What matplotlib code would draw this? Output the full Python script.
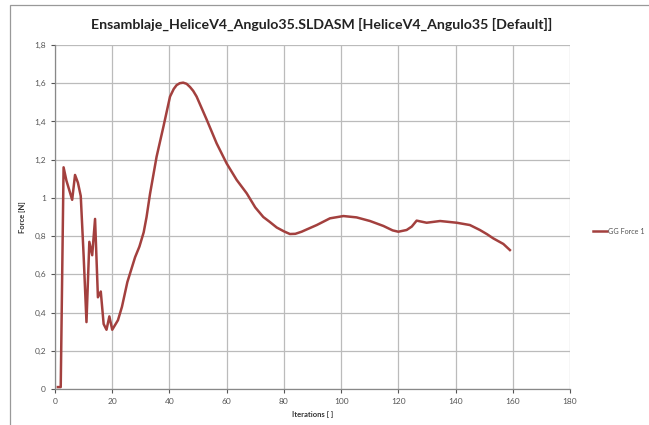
import matplotlib
matplotlib.use("Agg")
import matplotlib.pyplot as plt
from matplotlib.patches import Rectangle

iterations = [1, 2, 3, 4, 5, 6, 7, 8, 9, 10, 11, 12, 13, 14, 15, 16, 17, 18, 19, 20,
              22, 23.4, 25.3, 28, 29.5, 31, 32, 33.2, 35.5, 37.9, 40.2, 41.5, 42.5, 43.6, 44.8,
              46, 47.2, 48.3, 49.5, 53, 56.5, 60, 63.5, 67, 70, 72.8, 75, 77.5, 80, 82.1, 84,
              86.2, 88, 91.5, 96.1, 100.8, 105.4, 110.1, 114.8, 118, 120, 122.9, 124.7,
              126.4, 129.9, 134.6, 140.4, 145, 148.5, 151, 153.2, 156.7, 159]
force = [0.01, 0.01, 1.16, 1.09, 1.04, 0.99, 1.12, 1.08, 1.01, 0.70, 0.35, 0.77, 0.70, 0.89,
         0.48, 0.51, 0.34, 0.31, 0.38, 0.31,
         0.36, 0.43, 0.56, 0.69, 0.745, 0.82, 0.90, 1.02, 1.215, 1.373, 1.53, 1.57, 1.59, 1.60, 1.603,
         1.597, 1.58, 1.56, 1.53, 1.41, 1.285, 1.18, 1.094, 1.024, 0.95, 0.90, 0.875, 0.845, 0.825, 0.811, 0.812,
         0.823, 0.835, 0.858, 0.893, 0.905, 0.898, 0.879, 0.853, 0.83, 0.823, 0.832, 0.85,
         0.881, 0.87, 0.879, 0.87, 0.858, 0.832, 0.81, 0.788, 0.759, 0.727]

xticks = [0, 20, 40, 60, 80, 100, 120, 140, 160, 180]
yticks = [0, 0.2, 0.4, 0.6, 0.8, 1.0, 1.2, 1.4, 1.6, 1.8]
ytick_labels = ["0", "0,2", "0,4", "0,6", "0,8", "1", "1,2", "1,4", "1,6", "1,8"]
title = "Ensamblaje_HeliceV4_Angulo35.SLDASM [HeliceV4_Angulo35 [Default]]"
series_name = "GG Force 1"

plt.rcParams['font.family'] = ['Lato', 'DejaVu Sans']

fig = plt.figure(figsize=(6.49, 4.25), dpi=100)
fig.patch.set_facecolor('white')
ax = fig.add_axes([55/649, 1-389/425, (570-55)/649, (389-45)/425])

ax.plot(iterations, force, color='#A3403E', lw=1.8, label=series_name)

ax.set_xlim(0, 180)
ax.set_ylim(0, 1.8)
ax.set_xticks(xticks)
ax.set_xticklabels([str(v) for v in xticks])
ax.set_yticks(yticks)
ax.set_yticklabels(ytick_labels)
ax.grid(True, color='#BBBBBB', lw=0.9)
ax.set_axisbelow(True)
for s in ['top', 'right']:
    ax.spines[s].set_visible(False)
for s in ['left', 'bottom']:
    ax.spines[s].set_color('#888888')
    ax.spines[s].set_linewidth(0.9)
ax.tick_params(axis='both', labelsize=6, colors='#555555', length=3, width=0.8, direction='out')

ax.set_xlabel("Iterations [ ]", fontsize=5.5, fontweight='bold', color='#333333', labelpad=4)
ax.set_ylabel("Force [N]", fontsize=5.5, fontweight='bold', color='#333333', labelpad=6)

fig.text(322/649, 1-24/425, title, ha='center', va='center', fontsize=10.2,
         fontweight='bold', color='#222222')

fig.legend(loc='center left', bbox_to_anchor=(588/649, 1-231/425), frameon=False,
           fontsize=5.2, handlelength=1.9, handletextpad=0.1, borderpad=0.2,
           labelcolor='#555555')

fig.patches.append(Rectangle((10/649, -0.1), 1.2, 1.1 - 5/425, transform=fig.transFigure,
                             fill=False, edgecolor='#999999', lw=0.9))

fig.savefig("out.png", dpi=100)
